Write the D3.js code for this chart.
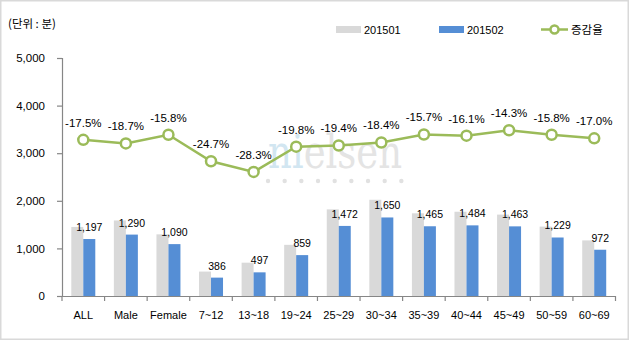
<!DOCTYPE html>
<html><head><meta charset="utf-8">
<script src="https://cdn.jsdelivr.net/npm/d3@7"></script>
<style>html,body{margin:0;padding:0;background:#fff;}svg{display:block;}</style>
</head><body>
<svg id="c" width="630" height="341"></svg>
<script>
const categories = ["ALL","Male","Female","7~12","13~18","19~24","25~29","30~34","35~39","40~44","45~49","50~59","60~69"];
const series201501 = [1451,1587,1295,513,700,1075,1820,2022,1737,1770,1710,1458,1168];
const series201502 = [1197,1290,1090,386,497,859,1472,1650,1465,1484,1463,1229,972];
const changeRate = [-17.5,-18.7,-15.8,-24.7,-28.3,-19.8,-19.4,-18.4,-15.7,-16.1,-14.3,-15.8,-17.0];
const yTicks = [0,1000,2000,3000,4000,5000];
const seriesNames = ["201501","201502","증감율"];
const unitLabel = "(단위 : 분)";

(function(){
const svg = d3.select("#c");
const font = "'Liberation Sans', Arial, sans-serif";
const kfont = "'Noto Sans CJK KR', sans-serif";
const colors = {a:"#D9D9D9", b:"#558ED5", g:"#9BBB59", axis:"#868686"};

svg.append("rect").attr("x",0.75).attr("y",0.75).attr("width",627.5).attr("height",338.5)
  .attr("fill","#fff").attr("stroke","#d9d9d9").attr("stroke-width",1.5);

const mLeft = 62, mRight = 615.5, mTop = 58, mBottom = 296;
const x = d3.scaleBand().domain(categories).range([mLeft, mRight]).padding(0);
const y = d3.scaleLinear().domain([0,5000]).range([mBottom, mTop]);
const y2 = d3.scaleLinear().domain([-70,10]).range([mBottom, mTop]);
const bw = x.bandwidth();
const barW = 12;
const sub = d3.scaleBand().domain(["a","b"]).range([-barW, barW]);

// watermark
const wm = svg.append("g");
const wt = wm.append("text").attr("x",268).attr("y",168).attr("font-family","'DejaVu Serif', 'Liberation Serif', serif")
  .attr("font-size",46).attr("textLength",134).attr("lengthAdjust","spacingAndGlyphs");
wt.append("tspan").attr("fill","#d2e6f1").text("ni");
wt.append("tspan").attr("fill","#e4e4e4").text("elsen");
wm.selectAll("circle").data(d3.range(9)).join("circle")
  .attr("cx",d=>268+d*16.67).attr("cy",181).attr("r",2.2).attr("fill","#e1e1e1");

// unit label
svg.append("text").attr("x",8).attr("y",28).attr("font-family",kfont).attr("font-size",11.5).attr("fill","#000").text(unitLabel);

// y axis
const ya = svg.append("g").attr("transform",`translate(${mLeft},0)`)
  .call(d3.axisLeft(y).tickValues(yTicks).tickSize(5).tickPadding(12).tickFormat(d3.format(",")));
ya.select(".domain").attr("stroke",colors.axis).attr("stroke-width",1.2);
ya.selectAll(".tick line").attr("stroke",colors.axis).attr("stroke-width",1.2);
ya.selectAll("text").attr("font-family",font).attr("font-size",11.5).attr("fill","#000");

// bars
const groups = svg.append("g").selectAll("g").data(categories).join("g")
  .attr("transform",d=>`translate(${x(d)+bw/2},0)`);
groups.append("rect").attr("x",sub("a")).attr("width",barW)
  .attr("y",(d,i)=>y(series201501[i])).attr("height",(d,i)=>mBottom-y(series201501[i])).attr("fill",colors.a);
groups.append("rect").attr("x",sub("b")).attr("width",barW)
  .attr("y",(d,i)=>y(series201502[i])).attr("height",(d,i)=>mBottom-y(series201502[i])).attr("fill",colors.b);
groups.append("text").attr("x",sub("b")+barW/2).attr("y",(d,i)=>y(series201502[i])-8)
  .attr("text-anchor","middle").attr("font-family",font).attr("font-size",10.5).attr("fill","#000")
  .text((d,i)=>d3.format(",")(series201502[i]));

// x axis
const xa = svg.append("g").attr("transform",`translate(0,${mBottom})`)
  .call(d3.axisBottom(x).tickSize(0).tickPadding(15));
xa.select(".domain").attr("stroke",colors.axis).attr("stroke-width",1.2);
xa.selectAll("text").attr("font-family",font).attr("font-size",11).attr("fill","#000");
xa.selectAll(".bnd").data(d3.range(categories.length+1)).join("line")
  .attr("x1",i=>mLeft+i*bw).attr("x2",i=>mLeft+i*bw).attr("y1",0).attr("y2",5)
  .attr("stroke",colors.axis).attr("stroke-width",1.2);

// line
const pts = categories.map((c,i)=>[x(c)+bw/2, y2(changeRate[i])]);
svg.append("path").attr("d",d3.line()(pts)).attr("fill","none").attr("stroke",colors.g).attr("stroke-width",2.5);
svg.append("g").selectAll("circle").data(pts).join("circle")
  .attr("cx",d=>d[0]).attr("cy",d=>d[1]).attr("r",5).attr("fill","#fff").attr("stroke",colors.g).attr("stroke-width",2.5);
svg.append("g").selectAll("text").data(changeRate).join("text")
  .attr("x",(d,i)=>pts[i][0]).attr("y",(d,i)=>pts[i][1]-13).attr("text-anchor","middle")
  .attr("font-family",font).attr("font-size",11.5).attr("fill","#000")
  .text(d=>d.toFixed(1)+"%");

// legend
const lg = svg.append("g");
lg.append("rect").attr("x",336).attr("y",26).attr("width",25).attr("height",7).attr("fill",colors.a);
lg.append("text").attr("x",364).attr("y",33.5).attr("font-family",font).attr("font-size",11).text(seriesNames[0]);
lg.append("rect").attr("x",439).attr("y",26).attr("width",25).attr("height",7).attr("fill",colors.b);
lg.append("text").attr("x",467).attr("y",33.5).attr("font-family",font).attr("font-size",11).text(seriesNames[1]);
lg.append("line").attr("x1",541).attr("x2",568).attr("y1",29.5).attr("y2",29.5).attr("stroke",colors.g).attr("stroke-width",2.5);
lg.append("circle").attr("cx",554.5).attr("cy",29.5).attr("r",4).attr("fill","#fff").attr("stroke",colors.g).attr("stroke-width",2.5);
lg.append("text").attr("x",571).attr("y",34).attr("font-family",kfont).attr("font-size",11.5).text(seriesNames[2]);
})();
</script>
</body></html>
